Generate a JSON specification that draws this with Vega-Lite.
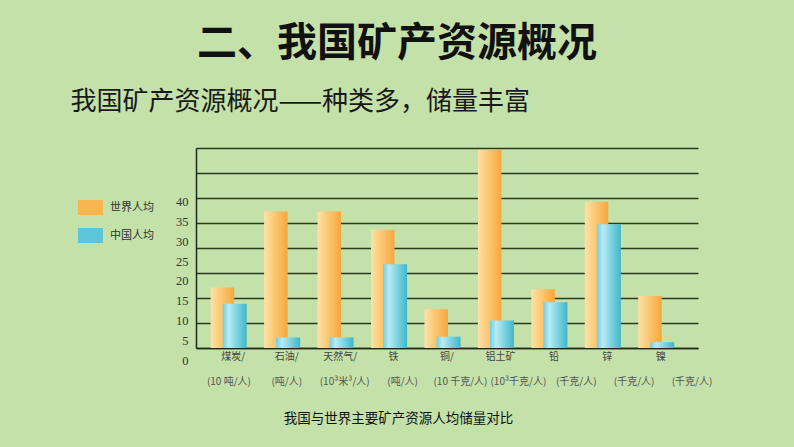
{
  "$schema": "https://vega.github.io/schema/vega-lite/v6.json",
  "width": 502,
  "height": 200,
  "autosize": {"type": "none"},
  "padding": {"left": 196, "top": 148, "right": 96, "bottom": 99},
  "background": "#c3e1a9",
  "config": {"view": {"stroke": null}, "font": "Noto Sans CJK SC"},
  "title": {
    "text": "二、我国矿产资源概况",
    "anchor": "middle",
    "frame": "group",
    "dx": -50,
    "fontSize": 40,
    "fontWeight": "bold",
    "color": "#111111",
    "font": "Noto Sans CJK SC",
    "offset": 24
  },
  "data": {
    "values": [
      {"category": "煤炭/(10 吨/人)", "series": "世界人均", "value": 18.3},
      {"category": "煤炭/(10 吨/人)", "series": "中国人均", "value": 14.2},
      {"category": "石油/(吨/人)", "series": "世界人均", "value": 37.5},
      {"category": "石油/(吨/人)", "series": "中国人均", "value": 5.7},
      {"category": "天然气/(10³米³/人)", "series": "世界人均", "value": 37.5},
      {"category": "天然气/(10³米³/人)", "series": "中国人均", "value": 5.7},
      {"category": "铁(吨/人)", "series": "世界人均", "value": 32.9},
      {"category": "铁(吨/人)", "series": "中国人均", "value": 24.2},
      {"category": "铜/(10 千克/人)", "series": "世界人均", "value": 12.8},
      {"category": "铜/(10 千克/人)", "series": "中国人均", "value": 5.9},
      {"category": "铝土矿(10³千克/人)", "series": "世界人均", "value": 53.1},
      {"category": "铝土矿(10³千克/人)", "series": "中国人均", "value": 10.0},
      {"category": "铅(千克/人)", "series": "世界人均", "value": 17.9},
      {"category": "铅(千克/人)", "series": "中国人均", "value": 14.6},
      {"category": "锌(千克/人)", "series": "世界人均", "value": 40.0},
      {"category": "锌(千克/人)", "series": "中国人均", "value": 34.3},
      {"category": "镍(千克/人)", "series": "世界人均", "value": 16.2},
      {"category": "镍(千克/人)", "series": "中国人均", "value": 4.5}
    ]
  },
  "layer": [
    {
      "mark": {"type": "square", "opacity": 0},
      "encoding": {
        "x": {
          "field": "category",
          "type": "nominal",
          "sort": null,
          "scale": {"type": "band", "range": [4, 525], "paddingInner": 0, "paddingOuter": 0},
          "axis": {
            "orient": "bottom",
            "domain": false,
            "ticks": false,
            "grid": false,
            "labelExpr": "'(' + split(datum.label, '(')[1]",
            "labelPadding": 28,
            "labelFontSize": 10,
            "labelColor": "#555555",
            "labelAngle": 0,
            "title": null
          }
        },
        "y": {
          "field": "value",
          "type": "quantitative",
          "scale": {"domain": [0, 40], "range": [212, 53.7], "nice": false},
          "axis": {
            "orient": "left",
            "domain": false,
            "ticks": false,
            "grid": false,
            "values": [0, 5, 10, 15, 20, 25, 30, 35, 40],
            "labelOverlap": false,
            "labelPadding": 8,
            "labelFont": "Liberation Serif",
            "labelFontSize": 12.5,
            "labelColor": "#333333",
            "title": null
          }
        }
      }
    },
    {
      "layer": [
        {
          "mark": {"type": "square", "opacity": 0},
          "encoding": {
            "x": {
              "field": "category",
              "type": "nominal",
              "sort": null,
              "scale": {"paddingInner": 0, "paddingOuter": 0.196},
              "axis": {
                "orient": "bottom",
                "domain": true,
                "domainColor": "#1e2a16",
                "domainWidth": 1.5,
                "ticks": false,
                "grid": false,
                "labelExpr": "split(datum.label, '(')[0]",
                "labelPadding": 3,
                "labelFontSize": 10,
                "labelColor": "#444444",
                "labelAngle": 0,
                "title": "我国与世界主要矿产资源人均储量对比",
                "titleX": 202,
                "titleY": 70,
                "titleBaseline": "middle",
                "titleFontSize": 13.5,
                "titleFontWeight": "normal",
                "titleColor": "#111111"
              }
            },
            "y": {
              "datum": 0,
              "type": "quantitative",
              "scale": {"domain": [0, 8], "nice": false},
              "axis": {
                "orient": "left",
                "domain": true,
                "domainColor": "#1e2a16",
                "domainWidth": 1.5,
                "ticks": false,
                "labels": false,
                "grid": true,
                "gridColor": "#2c3a20",
                "gridWidth": 1.4,
                "values": [0, 1, 2, 3, 4, 5, 6, 7, 8],
                "title": "我国矿产资源概况——种类多，储量丰富",
                "titleAngle": 0,
                "titleAlign": "left",
                "titleBaseline": "middle",
                "titleX": -126,
                "titleY": -47,
                "titleFontSize": 26,
                "titleFontWeight": "normal",
                "titleColor": "#1a1a1a"
              }
            }
          }
        },
        {
          "layer": [
            {
              "transform": [{"filter": "datum.series === '世界人均'"}],
              "mark": {
                "type": "bar",
                "width": 23.5,
                "xOffset": -10.8,
                "clip": true,
                "color": {
                  "gradient": "linear",
                  "x1": 0, "y1": 0, "x2": 1, "y2": 0,
                  "stops": [
                    {"offset": 0, "color": "#fde2a6"},
                    {"offset": 0.3, "color": "#fcd083"},
                    {"offset": 1, "color": "#f7a73a"}
                  ]
                }
              },
              "encoding": {
                "x": {"field": "category", "type": "nominal", "sort": null},
                "y": {
                  "field": "value",
                  "type": "quantitative",
                  "scale": {"domain": [0, 40], "range": [212, 53.7], "nice": false},
                  "axis": null
                }
              }
            },
            {
              "transform": [{"filter": "datum.series === '中国人均'"}],
              "mark": {
                "type": "bar",
                "width": 24,
                "xOffset": 1.5,
                "clip": true,
                "color": {
                  "gradient": "linear",
                  "x1": 0, "y1": 0, "x2": 1, "y2": 0,
                  "stops": [
                    {"offset": 0, "color": "#72cddf"},
                    {"offset": 0.25, "color": "#b7ebf5"},
                    {"offset": 1, "color": "#3eb7ca"}
                  ]
                }
              },
              "encoding": {
                "x": {"field": "category", "type": "nominal", "sort": null},
                "y": {"field": "value", "type": "quantitative", "axis": null}
              }
            },
            {
              "mark": {"type": "square", "opacity": 0},
              "encoding": {
                "x": {"field": "category", "type": "nominal", "sort": null},
                "y": {"field": "value", "type": "quantitative", "axis": null},
                "color": {
                  "field": "series",
                  "type": "nominal",
                  "sort": null,
                  "scale": {"domain": ["世界人均", "中国人均"], "range": ["#f9b650", "#5cc6d8"]},
                  "legend": {
                    "orient": "none",
                    "legendX": -118,
                    "legendY": 47,
                    "title": null,
                    "padding": 0,
                    "symbolType": "M-1,-0.6H1V0.6H-1Z",
                    "symbolSize": 625,
                    "symbolOpacity": 1,
                    "symbolStrokeWidth": 0,
                    "labelFontSize": 11,
                    "labelColor": "#333333",
                    "labelOffset": 7,
                    "rowPadding": 8,
                    "encode": {
                      "symbols": {
                        "update": {
                          "fill": [
                            {
                              "test": "datum.value === '世界人均'",
                              "value": {
                                "gradient": "linear",
                                "x1": 0, "y1": 0, "x2": 1, "y2": 0,
                                "stops": [
                                  {"offset": 0, "color": "#fde2a6"},
                                  {"offset": 0.3, "color": "#fcd083"},
                                  {"offset": 1, "color": "#f7a73a"}
                                ]
                              }
                            },
                            {
                              "value": {
                                "gradient": "linear",
                                "x1": 0, "y1": 0, "x2": 1, "y2": 0,
                                "stops": [
                                  {"offset": 0, "color": "#72cddf"},
                                  {"offset": 0.25, "color": "#b7ebf5"},
                                  {"offset": 1, "color": "#3eb7ca"}
                                ]
                              }
                            }
                          ],
                          "opacity": {"value": 1}
                        }
                      }
                    }
                  }
                }
              }
            }
          ]
        }
      ],
      "resolve": {"scale": {"y": "independent"}}
    }
  ],
  "resolve": {"scale": {"x": "independent", "y": "independent"}}
}
